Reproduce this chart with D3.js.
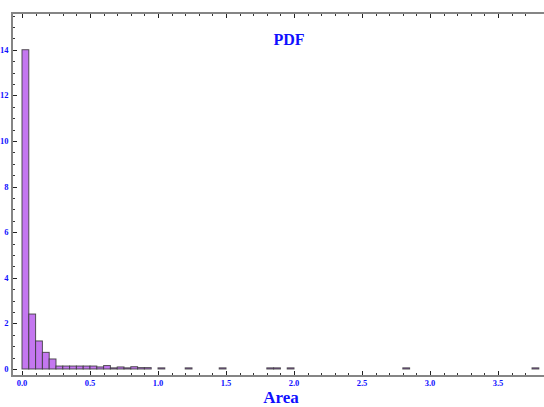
<!DOCTYPE html>
<html>
<head>
<meta charset="utf-8">
<script src="https://cdn.jsdelivr.net/npm/d3@7"></script>
<style>
  html, body { margin: 0; padding: 0; background: #fff; }
  svg { display: block; }
</style>
</head>
<body>
<svg id="chart" width="544" height="407"></svg>
<script>
// ---- data ----
const binWidth = 0.05;
const binStarts = [0.00, 0.05, 0.10, 0.15, 0.20, 0.25, 0.30, 0.35, 0.40, 0.45, 0.50, 0.55, 0.60, 0.65, 0.70, 0.75, 0.80, 0.85, 0.90, 1.00, 1.20, 1.45, 1.80, 1.85, 1.95, 2.80, 3.75];
const densities = [14.0, 2.41, 1.23, 0.73, 0.44, 0.13, 0.13, 0.13, 0.13, 0.13, 0.13, 0.09, 0.15, 0.05, 0.09, 0.05, 0.10, 0.06, 0.06, 0.05, 0.05, 0.05, 0.05, 0.05, 0.05, 0.05, 0.05];
const xMajorTicks = [0.0, 0.5, 1.0, 1.5, 2.0, 2.5, 3.0, 3.5];
const xTickLabels = ["0.0", "0.5", "1.0", "1.5", "2.0", "2.5", "3.0", "3.5"];
const yMajorTicks = [0, 2, 4, 6, 8, 10, 12, 14];
const yTickLabels = ["0", "2", "4", "6", "8", "10", "12", "14"];
const titleText = "PDF";
const xAxisTitle = "Area";

(function () {
  // ---- layout ----
  const svg = d3.select("#chart");
  const pLeft = 12, pRight = 544, pTop = 13, pBottom = 376;
  const x = d3.scaleLinear().domain([-0.0735, 3.838]).range([pLeft, pRight]);
  const y = d3.scaleLinear().domain([-0.307, 15.61]).range([pBottom, pTop]);

  const blue = "#1010ff";
  const axisGray = "#858585";
  const serif = "'Liberation Serif', 'DejaVu Serif', serif";

  // bars
  const bars = binStarts.map((s, i) => ({ x0: s, x1: s + binWidth, v: densities[i] }));
  svg.append("g").selectAll("rect").data(bars).join("rect")
    .attr("x", d => x(d.x0))
    .attr("y", d => y(d.v))
    .attr("width", d => x(d.x1) - x(d.x0))
    .attr("height", d => y(0) - y(d.v))
    .attr("fill", "#c477f0")
    .attr("stroke", "#3a3a3a")
    .attr("stroke-width", 1)
    .attr("stroke-opacity", 0.85);

  // minor tick values
  const xMinor = d3.range(0, 38).map(i => i / 10).filter(v => Math.abs(v * 2 - Math.round(v * 2)) > 1e-6);
  const yMinor = d3.range(1, 32).map(i => i / 2).filter(v => Math.abs(v / 2 - Math.round(v / 2)) > 1e-6);

  // bottom axis
  const gx = svg.append("g");
  gx.append("line").attr("x1", pLeft).attr("x2", pRight).attr("y1", pBottom).attr("y2", pBottom)
    .attr("stroke", axisGray).attr("stroke-width", 2);
  gx.selectAll("line.maj").data(xMajorTicks).join("line").attr("class", "maj")
    .attr("x1", d => Math.round(x(d)) + 0.5).attr("x2", d => Math.round(x(d)) + 0.5)
    .attr("y1", pBottom - 1).attr("y2", pBottom - 5).attr("stroke", "#222").attr("stroke-width", 1);
  gx.selectAll("line.min").data(xMinor).join("line").attr("class", "min")
    .attr("x1", d => Math.round(x(d)) + 0.5).attr("x2", d => Math.round(x(d)) + 0.5)
    .attr("y1", pBottom - 1).attr("y2", pBottom - 3).attr("stroke", "#333").attr("stroke-width", 1);
  gx.selectAll("text").data(xMajorTicks).join("text")
    .attr("x", d => x(d)).attr("y", 386)
    .attr("text-anchor", "middle")
    .attr("font-family", serif).attr("font-weight", "bold").attr("font-size", 8.5)
    .attr("fill", blue)
    .text((d, i) => xTickLabels[i]);

  // top axis (mirror ticks)
  const gt = svg.append("g");
  gt.append("line").attr("x1", pLeft).attr("x2", pRight).attr("y1", pTop).attr("y2", pTop)
    .attr("stroke", axisGray).attr("stroke-width", 2);
  gt.selectAll("line.maj").data(xMajorTicks).join("line").attr("class", "maj")
    .attr("x1", d => Math.round(x(d)) + 0.5).attr("x2", d => Math.round(x(d)) + 0.5)
    .attr("y1", pTop + 1).attr("y2", pTop + 5).attr("stroke", "#222").attr("stroke-width", 1);
  gt.selectAll("line.min").data(xMinor).join("line").attr("class", "min")
    .attr("x1", d => Math.round(x(d)) + 0.5).attr("x2", d => Math.round(x(d)) + 0.5)
    .attr("y1", pTop + 1).attr("y2", pTop + 3).attr("stroke", "#333").attr("stroke-width", 1);

  // left axis
  const gy = svg.append("g");
  gy.append("line").attr("x1", pLeft).attr("x2", pLeft).attr("y1", pTop - 1).attr("y2", pBottom + 1)
    .attr("stroke", axisGray).attr("stroke-width", 2);
  gy.selectAll("line.maj").data(yMajorTicks).join("line").attr("class", "maj")
    .attr("x1", pLeft + 1).attr("x2", pLeft + 5)
    .attr("y1", d => Math.round(y(d)) + 0.5).attr("y2", d => Math.round(y(d)) + 0.5)
    .attr("stroke", "#222").attr("stroke-width", 1);
  gy.selectAll("line.min").data(yMinor).join("line").attr("class", "min")
    .attr("x1", pLeft + 1).attr("x2", pLeft + 3)
    .attr("y1", d => Math.round(y(d)) + 0.5).attr("y2", d => Math.round(y(d)) + 0.5)
    .attr("stroke", "#333").attr("stroke-width", 1);
  gy.selectAll("text").data(yMajorTicks).join("text")
    .attr("x", 8.5).attr("y", d => y(d) + 3)
    .attr("text-anchor", "end")
    .attr("font-family", serif).attr("font-weight", "bold").attr("font-size", 8.5)
    .attr("fill", blue)
    .text((d, i) => yTickLabels[i]);

  // titles
  svg.append("text").attr("x", 289).attr("y", 45).attr("text-anchor", "middle")
    .attr("font-family", serif).attr("font-weight", "bold").attr("font-size", 16)
    .attr("fill", blue).text(titleText);
  svg.append("text").attr("x", 281).attr("y", 403).attr("text-anchor", "middle")
    .attr("font-family", serif).attr("font-weight", "bold").attr("font-size", 17)
    .attr("fill", blue).text(xAxisTitle);
})();
</script>
</body>
</html>
